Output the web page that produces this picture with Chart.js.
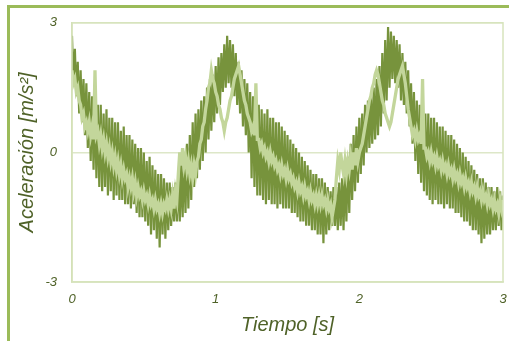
<!DOCTYPE html>
<html>
<head>
<meta charset="utf-8">
<script src="https://cdn.jsdelivr.net/npm/chart.js@4.4.0/dist/chart.umd.min.js"></script>
<style>
  html, body { margin: 0; padding: 0; background: #fff; overflow: hidden; }
  #wrap { position: relative; width: 509px; height: 341px; }
  #frame { position: absolute; left: 7px; top: 5px; width: 520px; height: 360px;
           border-top: 3px solid #9BBB59; border-left: 3px solid #9BBB59; }
  canvas { position: absolute; left: 0; top: 0; }
</style>
</head>
<body>
<div id="wrap">
  <div id="frame"></div>
  <canvas id="chart" width="509" height="341"></canvas>
</div>
<script>
// sample interval of both recordings, seconds
const sampleStep = 0.01;

const xTicks = [0, 1, 2, 3];
const yTicks = [-3, 0, 3];

// aceleración, serie oscura (one value every 0.01 s, one row = 0.1 s)
const darkSeries = [
  2.7, 1.6, 2.4, 1.3, 2.1, 0.9, 1.9, 0.7, 1.7, 0.4,
  1.6, 0.1, 1.4, -0.2, 1.3, -0.4, 1.2, -0.6, 1.1, -0.8,
  1.1, -0.9, 0.9, -0.8, 1.0, -1.0, 0.8, -0.9, 0.8, -1.1,
  0.7, -1.0, 0.7, -1.1, 0.5, -1.1, 0.6, -1.2, 0.4, -1.2,
  0.4, -1.3, 0.3, -1.2, 0.2, -1.4, 0.1, -1.5, 0.1, -1.5,
  0.0, -1.6, -0.2, -1.7, -0.1, -1.9, -0.3, -1.8, -0.4, -2.0,
  -0.5, -2.2, -0.5, -1.9, -0.6, -2.0, -0.7, -1.8, -0.7, -1.7,
  -0.8, -1.6, -0.7, -1.6, -0.5, -1.6, -0.3, -1.5, -0.1, -1.4,
  0.2, -1.3, 0.4, -1.1, 0.7, -0.8, 0.9, -0.6, 1.0, -0.4,
  1.2, -0.2, 1.3, 0.0, 1.5, 0.3, 1.7, 0.5, 1.8, 0.7,
  2.0, 0.9, 2.2, 1.1, 2.3, 1.4, 2.5, 1.5, 2.7, 1.6,
  2.6, 1.5, 2.5, 1.3, 2.3, 1.1, 2.1, 0.9, 1.9, 0.6,
  1.7, 0.4, 1.6, 0.0, 1.4, -0.6, 1.3, -0.8, 1.2, -1.0,
  1.1, -1.0, 1.0, -1.1, 0.9, -1.2, 1.0, -1.1, 0.8, -1.2,
  0.8, -1.2, 0.7, -1.3, 0.7, -1.2, 0.6, -1.3, 0.5, -1.3,
  0.4, -1.3, 0.3, -1.4, 0.2, -1.4, 0.1, -1.5, 0.0, -1.6,
  -0.1, -1.6, -0.2, -1.7, -0.3, -1.7, -0.4, -1.8, -0.5, -1.8,
  -0.5, -1.9, -0.6, -1.9, -0.6, -2.1, -0.7, -1.9, -0.8, -1.8,
  -0.9, -1.7, -0.8, -1.7, -0.8, -1.8, -0.7, -1.7, -0.6, -1.8,
  -0.4, -1.6, -0.1, -1.4, 0.2, -1.1, 0.4, -0.9, 0.6, -0.7,
  0.8, -0.5, 0.9, -0.3, 1.1, 0.0, 1.2, 0.1, 1.3, 0.2,
  1.5, 0.3, 1.7, 0.4, 2.0, 0.6, 2.3, 0.9, 2.6, 1.2,
  2.9, 1.5, 2.8, 1.7, 2.7, 1.6, 2.6, 1.5, 2.5, 1.2,
  2.3, 1.1, 2.1, 0.9, 1.9, 0.6, 1.6, 0.2, 1.4, -0.2,
  1.2, -0.5, 1.1, -0.7, 1.0, -0.9, 0.9, -1.0, 0.9, -1.1,
  0.8, -1.2, 0.8, -1.1, 0.7, -1.2, 0.6, -1.2, 0.6, -1.3,
  0.5, -1.2, 0.4, -1.3, 0.4, -1.3, 0.3, -1.4, 0.2, -1.4,
  0.1, -1.5, 0.0, -1.6, -0.1, -1.6, -0.2, -1.7, -0.3, -1.8,
  -0.4, -1.8, -0.5, -1.9, -0.6, -2.1, -0.6, -2.0, -0.7, -1.9,
  -0.8, -1.9, -0.8, -1.8, -0.9, -1.8, -0.8, -1.7, -0.9, -1.8,
  -1.0
];

// aceleración, serie clara
const lightSeries = [
  1.9, 1.6, 1.7, 1.4, 1.5, 1.2, 1.1, 0.8, 0.9, 0.6,
  0.7, 0.5, 0.7, 0.4, 0.6, 0.3, 1.9, 0.4, 0.5, 0.2,
  0.4, 0.1, 0.3, 0.0, 0.2, -0.1, 0.1, -0.2, 0.0, -0.3,
  -0.1, -0.4, -0.2, -0.5, -0.3, -0.6, -0.4, -0.6, -0.5, -0.8,
  -0.6, -0.8, -0.6, -0.9, -0.7, -1.0, -0.8, -1.0, -0.9, -1.1,
  -0.9, -1.1, -1.0, -1.2, -1.0, -1.2, -1.1, -1.3, -1.1, -1.3,
  -1.2, -1.4, -1.2, -1.4, -1.2, -1.3, -1.1, -1.3, -1.1, -1.3,
  -1.0, -1.3, -0.9, -1.1, -0.5, 0.0, -0.3, 0.1, -0.3, -0.1,
  -0.4, -0.2, -0.5, -0.3, -0.6, -0.3, -0.5, -0.2, -0.1, 0.2,
  0.3, 0.6, 0.7, 1.0, 1.2, 1.5, 1.6, 1.9, 1.7, 1.6,
  1.4, 1.3, 1.1, 1.0, 0.8, 0.7, 0.5, 0.7, 0.8, 1.0,
  1.2, 1.3, 1.5, 1.7, 1.8, 1.9, 2.0, 1.8, 1.6, 1.4,
  1.2, 1.1, 0.9, 0.8, 0.7, 0.5, 0.6, 0.4, 1.6, 0.3,
  0.3, 0.1, 0.2, 0.0, 0.1, -0.1, 0.0, -0.2, 0.0, -0.2,
  -0.1, -0.3, -0.2, -0.4, -0.3, -0.5, -0.3, -0.5, -0.4, -0.6,
  -0.4, -0.6, -0.5, -0.7, -0.6, -0.8, -0.7, -0.9, -0.7, -0.9,
  -0.8, -1.0, -0.8, -1.0, -0.9, -1.1, -0.9, -1.1, -1.0, -1.2,
  -1.0, -1.2, -1.0, -1.2, -1.0, -1.2, -1.1, -1.3, -1.1, -1.3,
  -1.2, -1.5, -1.3, -1.1, -0.6, -0.2, -0.4, 0.0, -0.3, -0.5,
  -0.2, -0.5, -0.2, -0.4, -0.1, -0.4, 0.0, -0.3, 0.1, -0.2,
  0.0, 0.1, 0.2, 0.4, 0.6, 0.8, 1.0, 1.2, 1.3, 1.5,
  1.6, 1.8, 1.9, 1.8, 1.6, 1.4, 1.2, 1.1, 0.9, 0.8,
  0.7, 0.6, 0.7, 0.9, 1.1, 1.3, 1.5, 1.7, 1.8, 1.9,
  2.0, 1.8, 1.6, 1.3, 1.0, 0.8, 0.6, 0.4, 0.5, 0.3,
  0.5, 0.3, 0.4, 0.2, 1.7, 0.1, 0.1, -0.1, 0.0, -0.2,
  0.0, -0.2, -0.1, -0.3, -0.1, -0.3, -0.2, -0.4, -0.2, -0.4,
  -0.3, -0.5, -0.3, -0.5, -0.4, -0.6, -0.4, -0.6, -0.5, -0.7,
  -0.5, -0.7, -0.6, -0.8, -0.6, -0.8, -0.7, -0.9, -0.7, -0.9,
  -0.8, -1.0, -0.8, -1.0, -0.9, -1.1, -0.9, -1.1, -1.0, -1.2,
  -1.0, -1.2, -1.1, -1.3, -1.1, -1.3, -1.2, -1.4, -1.1, -1.3,
  -1.1
];

function toPoints(values) {
  return values.map((v, i) => ({ x: +(i * sampleStep).toFixed(2), y: v }));
}

// thin box round the plot area
const plotBox = {
  id: 'plotBox',
  afterDraw(chart) {
    const a = chart.chartArea;
    const ctx = chart.ctx;
    ctx.save();
    ctx.strokeStyle = '#D7E4BD';
    ctx.lineWidth = 1.5;
    ctx.strokeRect(a.left, a.top, a.right - a.left, a.bottom - a.top);
    ctx.restore();
  }
};

const textColor = '#4F6228';

new Chart(document.getElementById('chart').getContext('2d'), {
  type: 'line',
  data: {
    datasets: [
      {
        label: 'clara',
        data: toPoints(lightSeries),
        borderColor: '#C3D69B',
        borderWidth: 3.3,
        pointRadius: 0,
        tension: 0
      },
      {
        label: 'oscura',
        data: toPoints(darkSeries),
        borderColor: '#77933C',
        borderWidth: 2.2,
        pointRadius: 0,
        tension: 0
      }
    ]
  },
  options: {
    responsive: false,
    animation: false,
    layout: { padding: { left: 0, top: 20, right: 6, bottom: 0 } },
    plugins: { legend: { display: false }, tooltip: { enabled: false } },
    scales: {
      x: {
        type: 'linear',
        min: 0,
        max: 3,
        afterBuildTicks: s => { s.ticks = xTicks.map(v => ({ value: v })); },
        afterFit: s => { s.height = 59; s.paddingRight = 0; s.paddingLeft = 0; },
        grid: { display: false, drawTicks: false },
        border: { color: '#D7E4BD', width: 1.5 },
        ticks: {
          padding: 10,
          color: textColor,
          font: { family: 'Liberation Sans', size: 13, style: 'italic' }
        },
        title: {
          display: true,
          text: 'Tiempo [s]',
          color: textColor,
          padding: { top: 0, bottom: 4 },
          font: { family: 'Liberation Sans', size: 20, style: 'italic' }
        }
      },
      y: {
        min: -3,
        max: 3,
        afterBuildTicks: s => { s.ticks = yTicks.map(v => ({ value: v })); },
        afterFit: s => { s.width = 72; },
        grid: { color: '#DDE7C8', lineWidth: 1.5, drawTicks: false },
        border: { color: '#C8DAA5', width: 1.5 },
        ticks: {
          padding: 15,
          color: textColor,
          font: { family: 'Liberation Sans', size: 13, style: 'italic' }
        },
        title: {
          display: true,
          text: 'Aceleración [m/s²]',
          color: textColor,
          padding: { top: 15, bottom: 0 },
          font: { family: 'Liberation Sans', size: 20, style: 'italic' }
        }
      }
    }
  },
  plugins: [plotBox]
});
</script>
</body>
</html>
